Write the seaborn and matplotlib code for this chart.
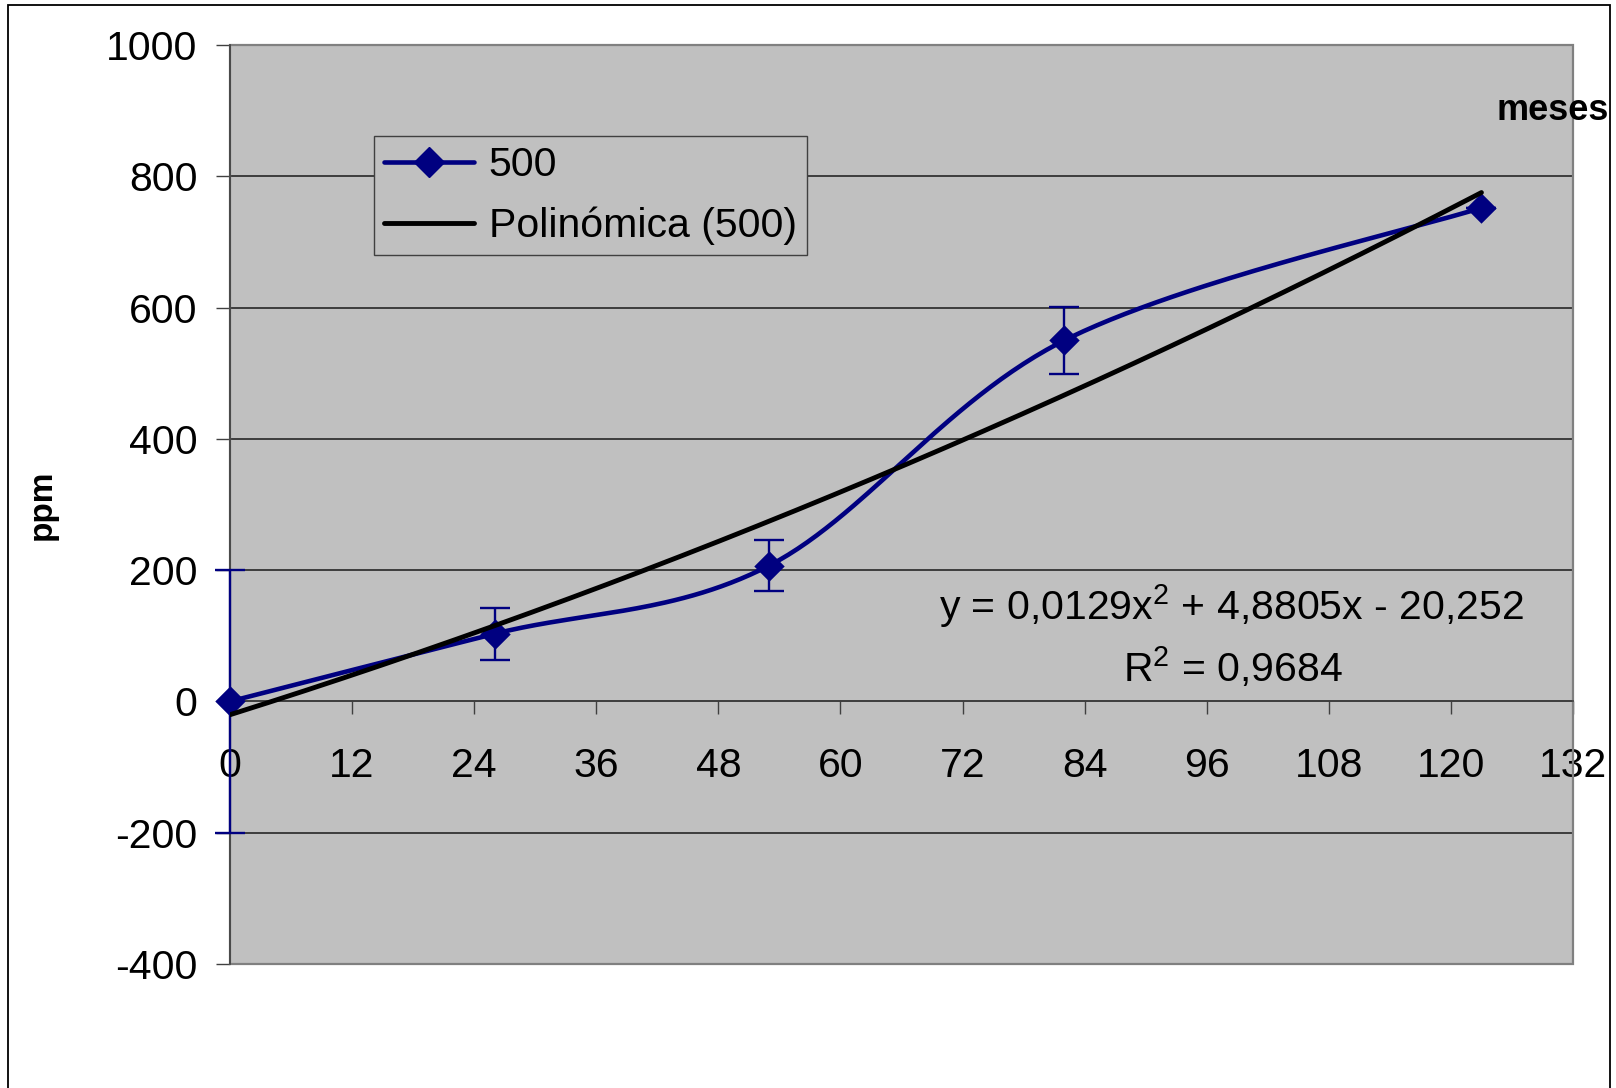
import numpy as np
import matplotlib
matplotlib.use("Agg")
import matplotlib.pyplot as plt
from matplotlib.lines import Line2D
from matplotlib.patches import Rectangle
import seaborn as sns

# ---- data -------------------------------------------------------------
meses = [0, 26, 53, 82, 123]
ppm = [0, 103, 207, 550, 752]
error_ppm = [200, 40, 39, 51, 0]
poly_coef = [0.0129, 4.8805, -20.252]   # x^2, x, constant
r_squared = 0.9684
x_ticks = list(range(0, 133, 12))
y_ticks = list(range(-400, 1001, 200))
serie_label = "500"
trend_label = "Polinómica (500)"
x_title = "meses"
y_title = "ppm"

# ---- style ------------------------------------------------------------
sns.set_style("white")
plt.rcParams["font.family"] = ["Liberation Sans", "DejaVu Sans"]
plt.rcParams["axes.unicode_minus"] = False
plt.rcParams["text.color"] = "black"
plt.rcParams["xtick.labelcolor"] = "black"
plt.rcParams["ytick.labelcolor"] = "black"
plt.rcParams["mathtext.fontset"] = "custom"
plt.rcParams["mathtext.rm"] = "Liberation Sans"
plt.rcParams["mathtext.it"] = "Liberation Sans"
plt.rcParams["mathtext.bf"] = "Liberation Sans:bold"

NAVY = "#000080"
PLOT_BG = "#C0C0C0"
FS = 29.5

W, H = 1616, 1088
fig = plt.figure(figsize=(W / 100, H / 100), dpi=100)
L, R, T, B = 230, 1573, 45, 964
ax = fig.add_axes([L / W, 1 - B / H, (R - L) / W, (B - T) / H])
ax.set_facecolor(PLOT_BG)


def smooth_curve(xs, ys, n=60):
    """Catmull-Rom style Bezier smoothing through the data points."""
    pts = np.column_stack([xs, ys]).astype(float)
    ext = np.vstack([pts[0], pts, pts[-1]])
    parts = []
    t = np.linspace(0, 1, n)[:, None]
    for i in range(len(pts) - 1):
        p0, p1, p2, p3 = ext[i], ext[i + 1], ext[i + 2], ext[i + 3]
        c1 = p1 + (p2 - p0) / 6.0
        c2 = p2 - (p3 - p1) / 6.0
        seg = ((1 - t) ** 3) * p1 + 3 * ((1 - t) ** 2) * t * c1 \
            + 3 * (1 - t) * (t ** 2) * c2 + (t ** 3) * p2
        parts.append(seg if i == 0 else seg[1:])
    return np.vstack(parts)


# error bars
eb = ax.errorbar(meses, ppm, yerr=error_ppm, fmt="none", ecolor=NAVY,
                 elinewidth=1.7, capsize=11, capthick=1.7, zorder=3)
for art in eb.lines[1] + eb.lines[2]:
    art.set_clip_on(False)

# smoothed series line
curve = smooth_curve(meses, ppm)
sns.lineplot(x=curve[:, 0], y=curve[:, 1], sort=False, estimator=None,
             color=NAVY, linewidth=3.3, ax=ax, zorder=4)

# markers
sns.scatterplot(x=meses, y=ppm, marker="D", s=240, color=NAVY,
                edgecolor=NAVY, linewidth=0, ax=ax, zorder=6, clip_on=False)

# polynomial trendline
xt = np.linspace(meses[0], meses[-1], 300)
yt = np.polyval(poly_coef, xt)
sns.lineplot(x=xt, y=yt, sort=False, estimator=None, color="black",
             linewidth=3.5, ax=ax, zorder=7)

# ---- axes -------------------------------------------------------------
ax.set_xlim(0, 132)
ax.set_ylim(-400, 1000)
ax.set_xticks(x_ticks)
ax.set_yticks(y_ticks)
ax.set_xticklabels([str(v) for v in x_ticks])
ax.set_yticklabels([str(v) for v in y_ticks])
ax.set_xlabel("")
ax.set_ylabel("")

ax.yaxis.grid(True, color="#1a1a1a", linewidth=1.1)
ax.xaxis.grid(False)
ax.set_axisbelow(True)

ax.spines["bottom"].set_position(("data", 0))
ax.spines["bottom"].set_color("#404040")
ax.spines["bottom"].set_linewidth(1.2)
ax.spines["left"].set_color("#404040")
ax.spines["left"].set_linewidth(1.2)
ax.spines["top"].set_visible(False)
ax.spines["right"].set_visible(False)
ax.add_patch(Rectangle((0, 0), 1, 1, transform=ax.transAxes, fill=False,
                       edgecolor="#808080", linewidth=1.6, zorder=1,
                       clip_on=False))

ax.tick_params(axis="x", direction="out", length=9.5, width=1.0,
               color="#404040", pad=23, labelsize=FS, bottom=True)
ax.tick_params(axis="y", direction="out", length=10, width=1.0,
               color="#404040", pad=13.3, labelsize=FS, left=True)

# legend
handles = [
    Line2D([], [], color=NAVY, linewidth=3.3, marker="D", markersize=15,
           markerfacecolor=NAVY, markeredgecolor=NAVY),
    Line2D([], [], color="black", linewidth=3.5),
]
leg = ax.legend(handles, [serie_label, trend_label], loc="upper left",
                bbox_to_anchor=(374 / W, 1 - 136 / H),
                bbox_transform=fig.transFigure, frameon=True, fancybox=False,
                shadow=False, facecolor=PLOT_BG, edgecolor="#404040",
                framealpha=1, fontsize=FS, handlelength=2.2,
                handletextpad=0.35, borderpad=0.25, labelspacing=0.54,
                borderaxespad=0, numpoints=1)
leg.get_frame().set_linewidth(1.0)
leg.set_zorder(10)

# axis titles
fig.text(1553 / W, 1 - 120 / H, x_title, ha="center", va="baseline",
         fontsize=26, fontweight="bold", color="black")
fig.text(42 / W, 1 - 505 / H, y_title, ha="center", va="center",
         rotation=90, fontsize=24, fontweight="bold", color="black")

# trendline equation
def num(v):
    return str(abs(v)).replace(".", ",")

sign0 = "-" if poly_coef[2] < 0 else "+"
eq = (f"y = {num(poly_coef[0])}x$^{{2}}$ + {num(poly_coef[1])}x "
      f"{sign0} {num(poly_coef[2])}")
fig.text(1231 / W, 1 - 620 / H, eq, ha="center", va="baseline", fontsize=FS)
fig.text(1233 / W, 1 - 682 / H, f"R$^{{2}}$ = {num(r_squared)}",
         ha="center", va="baseline", fontsize=FS)

# outer chart border
fig.add_artist(Rectangle((8 / W, -0.02), (1610 - 8) / W, 1.02 - 5 / H,
                         transform=fig.transFigure, fill=False,
                         edgecolor="black", linewidth=1.3, clip_on=False))

fig.savefig("out.png", dpi=100)
